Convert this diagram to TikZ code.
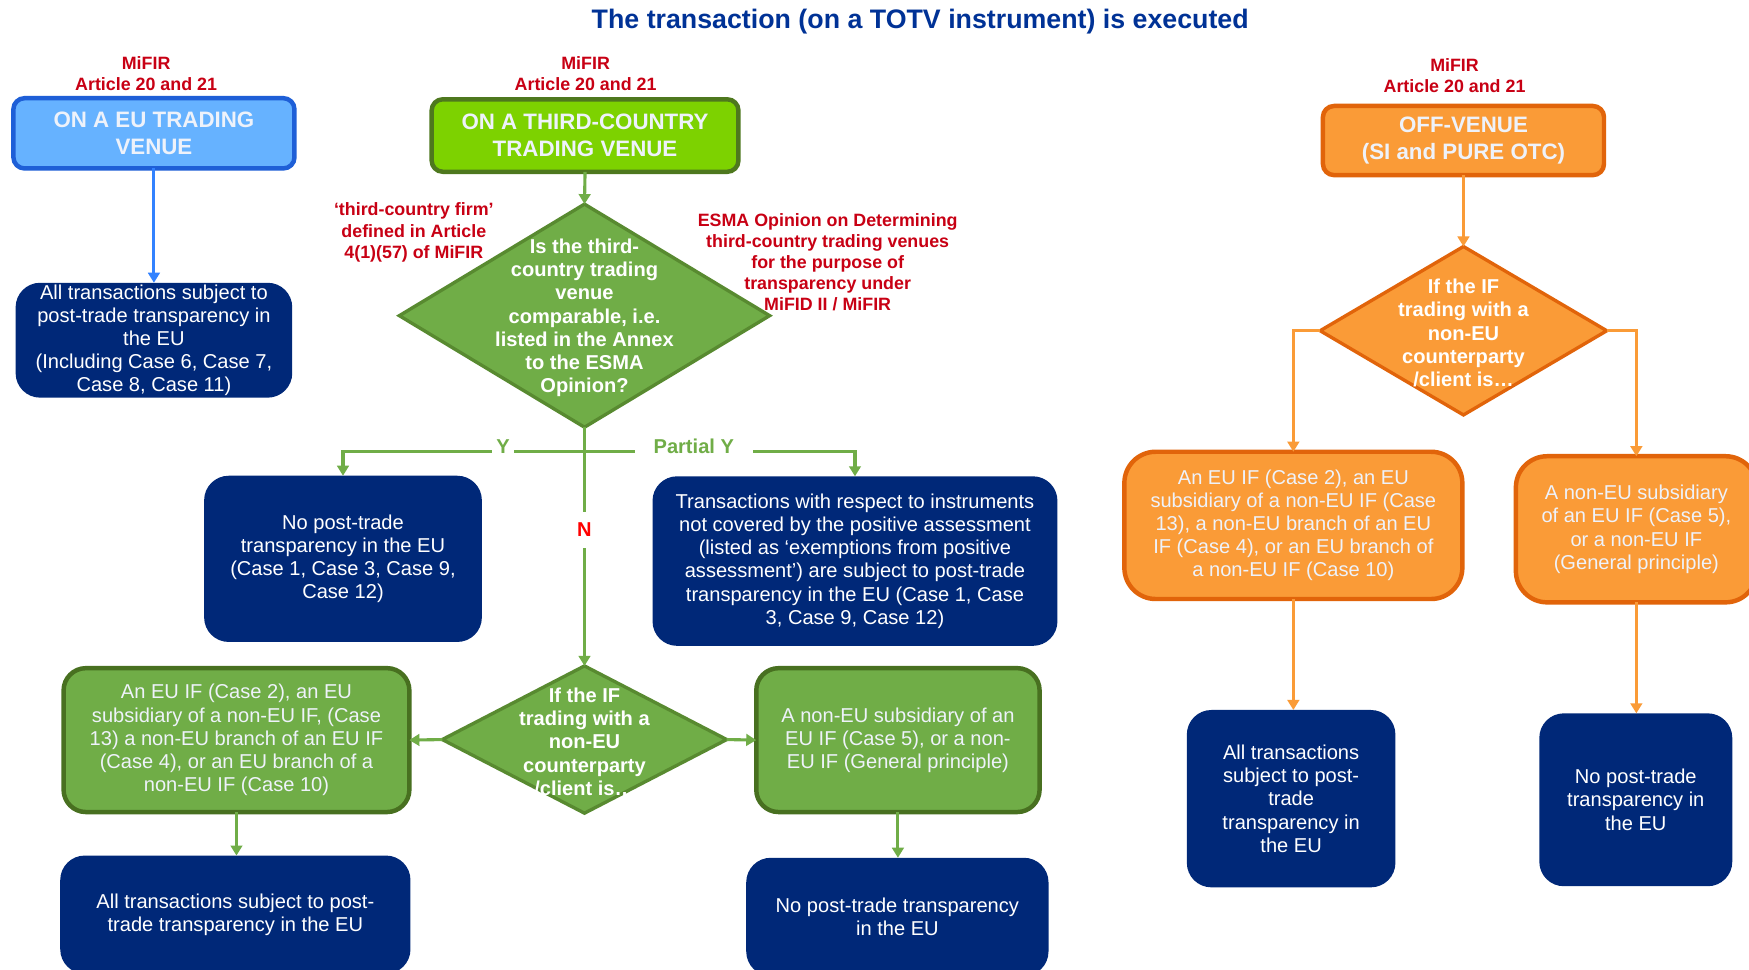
\documentclass[tikz,border=0pt]{standalone}
\usepackage{fontspec}
\setmainfont{Liberation Sans}
\usetikzlibrary{shapes.geometric,arrows.meta}
\definecolor{navyc}{RGB}{0,40,120}
\definecolor{lbluefill}{RGB}{102,178,255}
\definecolor{lblueline}{RGB}{30,95,215}
\definecolor{bluearrow}{RGB}{50,130,255}
\definecolor{bgreenfill}{RGB}{125,210,0}
\definecolor{bgreenline}{RGB}{78,120,30}
\definecolor{mgreen}{RGB}{112,173,71}
\definecolor{mgreenline}{RGB}{72,112,32}
\definecolor{dgreenline}{RGB}{88,138,48}
\definecolor{orfill}{RGB}{250,155,55}
\definecolor{orline}{RGB}{225,100,10}
\definecolor{redc}{RGB}{200,0,20}
\definecolor{brightred}{RGB}{255,0,0}
\definecolor{titleblue}{RGB}{0,50,150}
\definecolor{paletxt}{RGB}{238,242,250}
\newcommand\myfs[2]{\fontsize{#1}{#2}\selectfont}
\begin{document}
\begin{tikzpicture}[x=0.5pt,y=-0.5pt,
  every node/.style={inner sep=0pt, outer sep=0pt},
  headbox/.style={rounded corners=5pt, line width=2pt, text=paletxt, align=center, font=\bfseries\myfs{10}{12}},
  navybox/.style={fill=navyc, rounded corners=11pt, text=white, align=center, font=\myfs{9}{10.4}},
  gbox/.style={fill=mgreen, draw=mgreenline, line width=2pt, rounded corners=10pt, text=paletxt, align=center, font=\myfs{9}{10.4}},
  obox/.style={fill=orfill, draw=orline, line width=2pt, rounded corners=14pt, text=paletxt, align=center, font=\myfs{9}{10.4}},
  diam/.style={diamond, line width=1.5pt},
  dtext/.style={text=white, align=center, font=\bfseries\myfs{9}{10.4}},
  redlab/.style={text=redc, align=center, font=\bfseries\myfs{8}{9.5}},
  conn/.style={line width=1.4pt, -{Triangle[width=5.2pt,length=4.5pt]}},
  plain/.style={line width=1.4pt},
  ylab/.style={fill=white, text=mgreen, font=\bfseries\myfs{9}{10.4}, inner ysep=3pt}
]
\useasboundingbox (0,0) rectangle (1568,869);
\fill[white] (0,0) rectangle (1568,869);
\clip (0,0) rectangle (1568,869);

% title
\node[text=titleblue, font=\bfseries\myfs{12}{14}] (title) at (825,19.5) {The transaction (on a TOTV instrument) is executed};

% MiFIR labels
\node[redlab] (m1) at (131,66) {MiFIR\\Article 20 and 21};
\node[redlab] (m2) at (525,66) {MiFIR\\Article 20 and 21};
\node[redlab] (m3) at (1304,67.5) {MiFIR\\Article 20 and 21};

% header boxes
\node[headbox, fill=lbluefill, draw=lblueline, minimum width=126pt, minimum height=31.5pt] (hEU) at (138,119.5) {ON A EU TRADING\\VENUE};
\node[headbox, fill=bgreenfill, draw=bgreenline, minimum width=137.5pt, minimum height=32.5pt] (hTC) at (524.5,121.5) {ON A THIRD-COUNTRY\\TRADING VENUE};
\node[headbox, fill=orfill, draw=orline, minimum width=126pt, minimum height=31pt] (hOFF) at (1312,126) {OFF-VENUE\\(SI and PURE OTC)};

% left column
\node[navybox, minimum width=124pt, minimum height=51.5pt] (bEU) at (138,305) {All transactions subject to\\post-trade transparency in\\the EU\\(Including Case 6, Case 7,\\Case 8, Case 11)};
\draw[conn, bluearrow] (hEU.south) -- (bEU.north);

% middle column
\node[diam, fill=mgreen, draw=dgreenline, minimum width=166pt, minimum height=100pt] (dTC) at (524,283) {};
\node[dtext] (dTCt) at ([yshift=-1pt]dTC.center) {Is the third-\\country trading\\venue\\comparable, i.e.\\listed in the Annex\\to the ESMA\\Opinion?};
\draw[conn, mgreen] (hTC.south) -- (dTC.north);

\node[redlab] (tcf) at (371,208.5) {‘third-country firm’\\defined in Article\\4(1)(57) of MiFIR};
\node[redlab] (esma) at (742,235) {ESMA Opinion on Determining\\third-country trading venues\\for the purpose of\\transparency under\\MiFID II / MiFIR};

\node[navybox, minimum width=124.5pt, minimum height=74.5pt] (bNo1) at (307.5,501) {No post-trade\\transparency in the EU\\(Case 1, Case 3, Case 9,\\Case 12)};
\node[navybox, minimum width=181.5pt, minimum height=76pt] (bPart) at (766.5,503) {Transactions with respect to instruments\\not covered by the positive assessment\\(listed as ‘exemptions from positive\\assessment’) are subject to post-trade\\transparency in the EU (Case 1, Case\\3, Case 9, Case 12)};

\node[diam, fill=mgreen, draw=dgreenline, minimum width=127.5pt, minimum height=66pt] (dIF1) at (524,663) {};
\node[dtext] (dIF1t) at ([yshift=-1pt]dIF1.center) {If the IF\\trading with a\\non-EU\\counterparty\\/client is…};

\coordinate (jY) at (524,405);
\draw[plain, mgreen] (dTC.south) -- (jY);
\draw[conn, mgreen] (jY) -| (bNo1.north);
\draw[conn, mgreen] (jY) -| (bPart.north);
\draw[conn, mgreen] (jY) -- (dIF1.north);
\node[ylab, inner xsep=2pt] (lY) at (451,400) {Y};
\node[ylab, inner xsep=8.5pt] (lPY) at (622,400) {Partial Y};
\node[fill=white, text=brightred, font=\bfseries\myfs{9}{10.4}, inner ysep=5pt, inner xsep=2pt] (lN) at (524,475) {N};

\node[gbox, minimum width=155pt, minimum height=64.5pt] (gL) at (212,663.5) {An EU IF (Case 2), an EU\\subsidiary of a non-EU IF, (Case\\13) a non-EU branch of an EU IF\\(Case 4), or an EU branch of a\\non-EU IF (Case 10)};
\node[gbox, minimum width=127pt, minimum height=64.5pt] (gR) at (805,663.5) {A non-EU subsidiary of an\\EU IF (Case 5), or a non-\\EU IF (General principle)};
\draw[conn, mgreen] (dIF1.west) -- (gL.east);
\draw[conn, mgreen] (dIF1.east) -- (gR.west);

\node[navybox, minimum width=157pt, minimum height=53pt] (bAll2) at (211,820) {All transactions subject to post-\\trade transparency in the EU};
\node[navybox, minimum width=135.5pt, minimum height=53pt] (bNo2) at (804.5,822) {No post-trade transparency\\in the EU};
\draw[conn, mgreen] (gL.south) -- (gL.south |- bAll2.north);
\draw[conn, mgreen] (gR.south) -- (gR.south |- bNo2.north);

% right column
\node[diam, fill=orfill, draw=orline, minimum width=128.5pt, minimum height=75.5pt] (dOFF) at (1312,296.5) {};
\node[dtext] (dOFFt) at ([yshift=-1pt]dOFF.center) {If the IF\\trading with a\\non-EU\\counterparty\\/client is…};
\draw[conn, orfill] (hOFF.south) -- (dOFF.north);

\node[obox, minimum width=151.5pt, minimum height=66pt] (oL) at (1159.5,471) {An EU IF (Case 2), an EU\\subsidiary of a non-EU IF (Case\\13), a non-EU branch of an EU\\IF (Case 4), or an EU branch of\\a non-EU IF (Case 10)};
\node[obox, minimum width=108pt, minimum height=65.5pt] (oR) at (1467,474.5) {A non-EU subsidiary\\of an EU IF (Case 5),\\or a non-EU IF\\(General principle)};
\draw[conn, orfill] (dOFF.west) -| (oL.north);
\draw[conn, orfill] (dOFF.east) -| (oR.north);

\node[navybox, minimum width=93.5pt, minimum height=79.5pt] (bAll3) at (1157.5,716) {All transactions\\subject to post-\\trade\\transparency in\\the EU};
\node[navybox, minimum width=86.5pt, minimum height=77.5pt] (bNo3) at (1466.5,717) {No post-trade\\transparency in\\the EU};
\draw[conn, orfill] (oL.south) -- (oL.south |- bAll3.north);
\draw[conn, orfill] (oR.south) -- (oR.south |- bNo3.north);
\end{tikzpicture}
\end{document}
